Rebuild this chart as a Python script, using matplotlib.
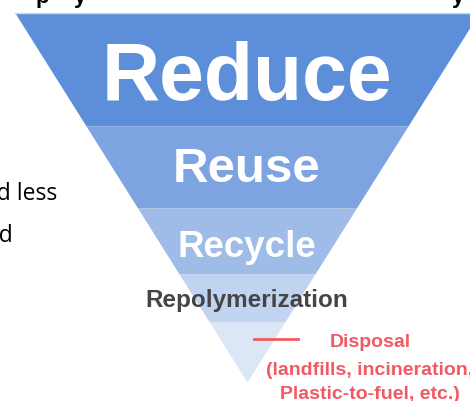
import numpy as np
import matplotlib.pyplot as plt

# waste hierarchy levels, top (most preferred) to bottom
levels = ['Reduce', 'Reuse', 'Recycle', 'Repolymerization', 'Disposal']
band_heights = [113, 82, 66, 48, 60]
band_colors = ['#5d8ed9', '#7da4e0', '#9fbbe7', '#c0d3f1', '#dbe6f6']
label_colors = ['white', 'white', 'white', '#454545', None]
label_sizes = [58, 35.5, 26.5, 17.5, None]
disposal_lines = ['Disposal', '(landfills, incineration,', 'Plastic-to-fuel, etc.)']

fig = plt.figure(figsize=(4.7, 4.01), dpi=100)
ax = fig.add_axes([0, 0, 1, 1])
ax.set_xlim(0, 470)
ax.set_ylim(401, 0)
ax.axis('off')

top, apex_x, apex_y = 13, 247, 382
half_top = 232

def half_width(y):
    return half_top * (apex_y - y) / (apex_y - top)

edges = top + np.concatenate([[0], np.cumsum(band_heights)])
for i, name in enumerate(levels):
    y = np.linspace(edges[i], edges[i + 1], 50)
    ax.fill_betweenx(y, apex_x - half_width(y), apex_x + half_width(y),
                     color=band_colors[i], lw=0)
ax.plot([apex_x - half_top, apex_x + half_top], [top - 0.5, top - 0.5],
        color='#c9d7f2', lw=1)

baselines = [100, 182, 257, 307]
for i in range(4):
    ax.text(apex_x, baselines[i], levels[i], color=label_colors[i],
            fontsize=label_sizes[i], fontweight='bold', family='Liberation Sans',
            ha='center', va='baseline')

# disposal callout
red = '#f25a63'
ax.plot([254, 298], [339, 339], color=red, lw=2)
for txt, yb in zip(disposal_lines, [347, 375, 399]):
    ax.text(370, yb, txt, color=red, fontsize=14, fontweight='bold',
            family='Liberation Sans', ha='center', va='baseline')

# slide body text cut off at left
ax.text(57, 200, 'and less', fontsize=16.5, family='Open Sans',
        ha='right', va='baseline', color='black')
ax.text(13, 242, 'and', fontsize=16.5, family='Open Sans',
        ha='right', va='baseline', color='black')

# slide title cut off at top, only descenders show
for x, ch in [(42, 'p'), (80, 'y'), (458, 'y')]:
    ax.text(x, 3, ch, fontsize=16, fontweight='bold', family='Liberation Sans',
            ha='center', va='baseline', color='black')

fig.savefig('out.png', dpi=100)
